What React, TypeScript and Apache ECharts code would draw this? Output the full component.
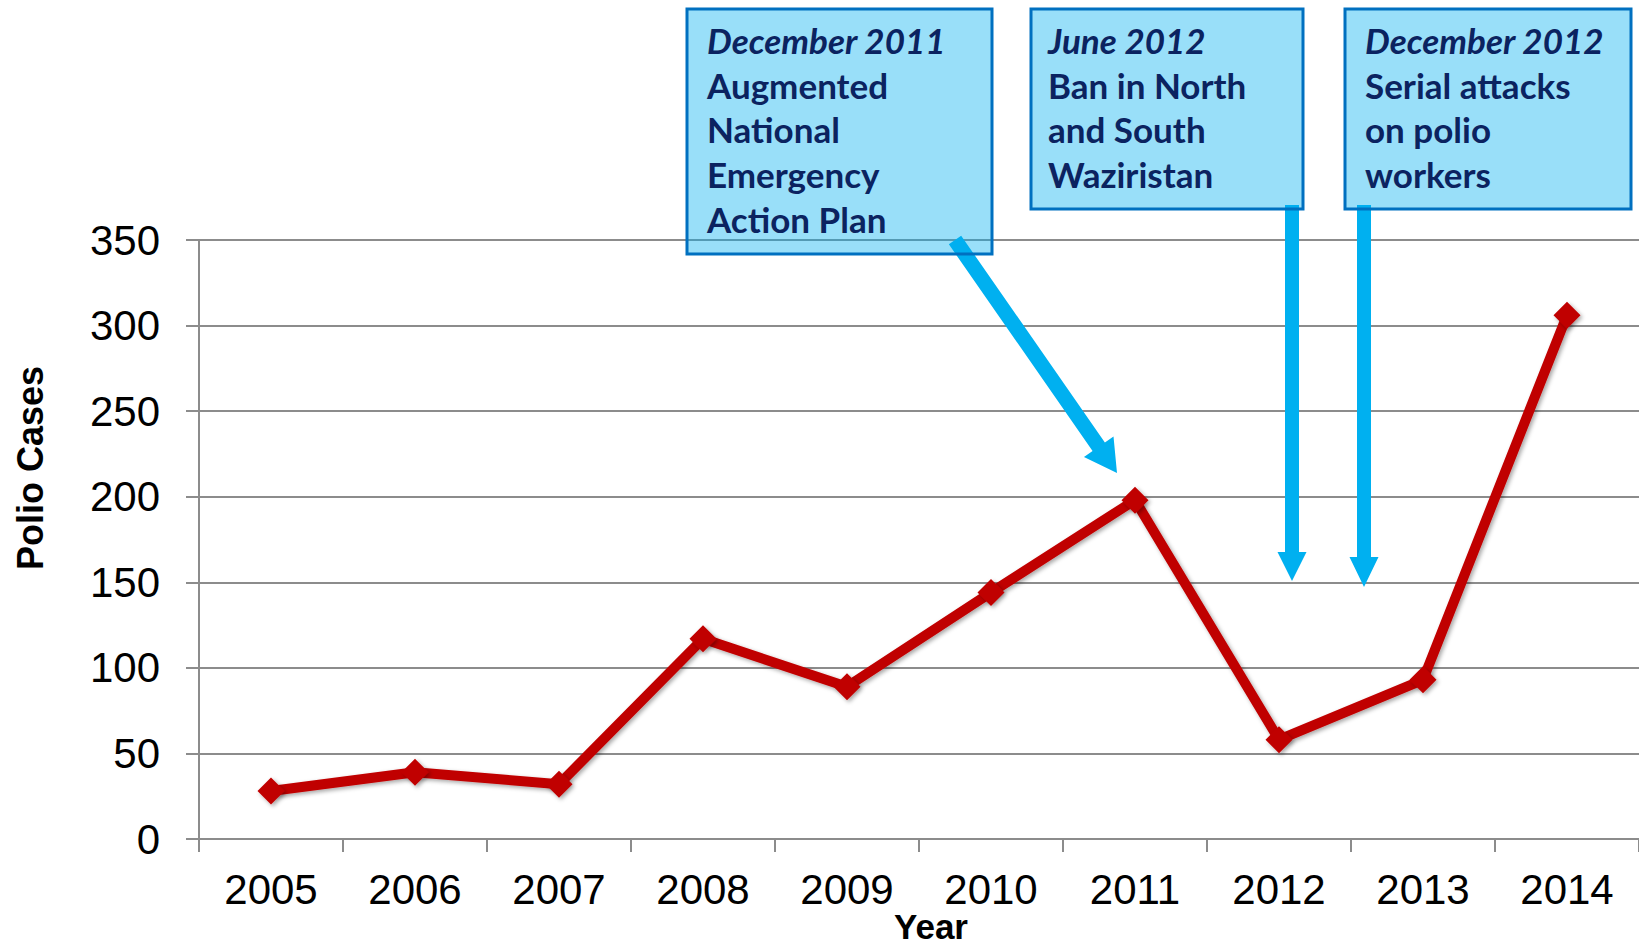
import React, { useEffect, useRef } from "react";
import * as echarts from "echarts";

const years = ["2005", "2006", "2007", "2008", "2009", "2010", "2011", "2012", "2013", "2014"];
const polioCases = [28, 39, 32, 117, 89, 144, 198, 58, 93, 306];
const yMin = 0;
const yMax = 350;
const yInterval = 50;

const annotationDates = ["December 2011", "June 2012", "December 2012"];
const annotationLines = [
  ["Augmented", "National", "Emergency", "Action Plan"],
  ["Ban in North", "and South", "Waziristan"],
  ["Serial attacks", "on polio", "workers"],
];

const boxes = [
  { x: 687, y: 9, w: 305, h: 245, tx: 707 },
  { x: 1031, y: 9, w: 272, h: 200, tx: 1048 },
  { x: 1345, y: 9, w: 286, h: 200, tx: 1365 },
];

const arrows = [
  { x1: 955, y1: 240, x2: 1117, y2: 473, sw: 15, hw: 36, hl: 32 },
  { x1: 1292, y1: 205, x2: 1292, y2: 581, sw: 14, hw: 29, hl: 29 },
  { x1: 1364, y1: 205, x2: 1364, y2: 587, sw: 14, hw: 29, hl: 30 },
];

function arrowPoints(a: any): number[][] {
  const dx = a.x2 - a.x1;
  const dy = a.y2 - a.y1;
  const len = Math.sqrt(dx * dx + dy * dy);
  const ux = dx / len;
  const uy = dy / len;
  const px = -uy;
  const py = ux;
  const bx = a.x2 - ux * a.hl;
  const by = a.y2 - uy * a.hl;
  const s = a.sw / 2;
  const h = a.hw / 2;
  return [
    [a.x1 + px * s, a.y1 + py * s],
    [bx + px * s, by + py * s],
    [bx + px * h, by + py * h],
    [a.x2, a.y2],
    [bx - px * h, by - py * h],
    [bx - px * s, by - py * s],
    [a.x1 - px * s, a.y1 - py * s],
  ];
}

const AXIS_GRAY = "#8c8c8c";
const NAVY = "#0b2360";
const BOX_FONT = "Lato";

export default function App() {
  const ref = useRef<HTMLDivElement>(null);

  useEffect(() => {
    if (!ref.current) return;
    const chart = echarts.init(ref.current, undefined, { renderer: "svg" });

    const graphics: any[] = [];
    arrows.forEach((a) => {
      graphics.push({
        type: "polygon",
        z: 5,
        shape: { points: arrowPoints(a) },
        style: { fill: "#00b0f0" },
      });
    });
    boxes.forEach((b, i) => {
      graphics.push({
        type: "rect",
        z: 10,
        shape: { x: b.x, y: b.y, width: b.w, height: b.h },
        style: { fill: "rgba(0,176,240,0.4)", stroke: "#0070c0", lineWidth: 3 },
      });
      const lines = [annotationDates[i], ...annotationLines[i]];
      lines.forEach((t, j) => {
        graphics.push({
          type: "text",
          z: 11,
          x: b.tx,
          y: 40 + j * 44.7,
          style: {
            text: t,
            fill: NAVY,
            font: `${j === 0 ? "italic " : ""}bold 35px ${BOX_FONT}`,
            textAlign: "left",
            verticalAlign: "middle",
          },
        });
      });
    });
    graphics.push({
      type: "text",
      z: 11,
      x: 30,
      y: 468,
      rotation: Math.PI / 2,
      style: {
        text: "Polio Cases",
        fill: "#000",
        font: "bold 36px 'Liberation Sans', Arial, sans-serif",
        textAlign: "center",
        verticalAlign: "middle",
      },
    });
    graphics.push({
      type: "text",
      z: 11,
      x: 931,
      y: 926,
      style: {
        text: "Year",
        fill: "#000",
        font: "bold 35px 'Liberation Sans', Arial, sans-serif",
        textAlign: "center",
        verticalAlign: "middle",
      },
    });

    chart.setOption({
      animation: false,
      backgroundColor: "#ffffff",
      grid: { left: 199, right: 0, top: 240, bottom: 107, containLabel: false },
      xAxis: {
        type: "category",
        data: years,
        boundaryGap: true,
        axisLine: { show: true, lineStyle: { color: AXIS_GRAY, width: 2 } },
        axisTick: { show: true, length: 13, alignWithLabel: false, lineStyle: { color: AXIS_GRAY, width: 2 } },
        axisLabel: {
          margin: 29,
          fontSize: 42,
          color: "#000",
          fontFamily: "'Liberation Sans', Arial, sans-serif",
        },
        splitLine: { show: false },
      },
      yAxis: {
        type: "value",
        min: yMin,
        max: yMax,
        interval: yInterval,
        axisLine: { show: true, lineStyle: { color: AXIS_GRAY, width: 2 } },
        axisTick: { show: true, length: 13, lineStyle: { color: AXIS_GRAY, width: 2 } },
        axisLabel: {
          margin: 39,
          fontSize: 42,
          color: "#000",
          fontFamily: "'Liberation Sans', Arial, sans-serif",
        },
        splitLine: { show: true, lineStyle: { color: AXIS_GRAY, width: 2 } },
      },
      series: [
        {
          type: "line",
          data: polioCases,
          symbol: "diamond",
          symbolSize: [27, 27],
          lineStyle: {
            color: "#c00000",
            width: 10,
            shadowColor: "rgba(0,0,0,0.35)",
            shadowBlur: 4,
            shadowOffsetX: 2,
            shadowOffsetY: 2,
          },
          itemStyle: {
            color: "#c00000",
            shadowColor: "rgba(0,0,0,0.35)",
            shadowBlur: 4,
            shadowOffsetX: 2,
            shadowOffsetY: 2,
          },
          z: 3,
        },
      ],
      graphic: graphics,
    });

    return () => chart.dispose();
  }, []);

  return (
    <div
      ref={ref}
      style={{ position: "fixed", left: 0, top: 0, width: 1639, height: 946, background: "#fff" }}
    />
  );
}
